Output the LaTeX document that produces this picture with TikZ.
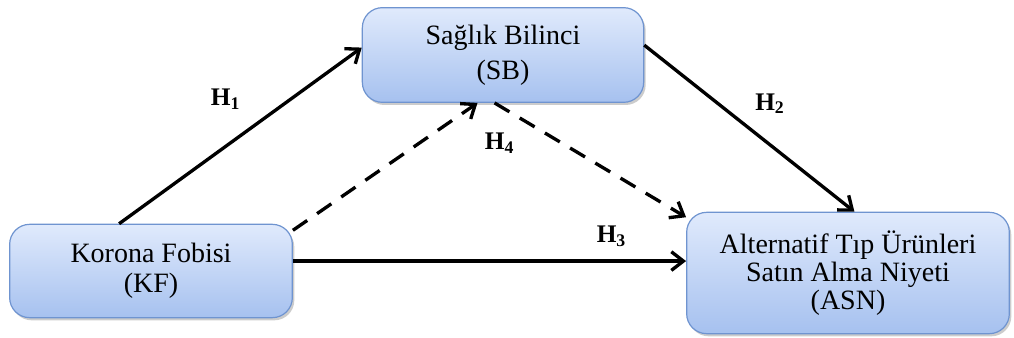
\documentclass[tikz,border=0pt]{standalone}
\usepackage{fontspec}
\setmainfont{Liberation Serif}
\usetikzlibrary{arrows.meta,shadows}

\definecolor{boxtop}{HTML}{E0EAFC}
\definecolor{boxbottom}{HTML}{A6C1EF}
\definecolor{boxline}{HTML}{6F94D0}

\begin{document}
\begin{tikzpicture}[x=0.75pt, y=-0.75pt, >={Straight Barb[length=9pt,width=14pt]},
                    line width=2.5pt,
                    main node/.style={rectangle, rounded corners=15pt, draw=boxline, line width=0.9pt,
                      top color=boxtop, bottom color=boxbottom, align=center,
                      font=\fontsize{21}{22.5}\selectfont,
                      drop shadow={shadow xshift=1.5pt, shadow yshift=-2pt, opacity=0.4}},
                    hyp/.style={font=\fontsize{19}{22}\selectfont\bfseries}]

  \useasboundingbox (0,0) rectangle (1014,338);

  \node[main node, minimum width=212pt, minimum height=70pt] (kf) at (151,271) {Korona Fobisi\\(KF)};
  \node[main node, minimum width=211pt, minimum height=71pt, font=\fontsize{21}{26}\selectfont] (sb) at (503,55) {Sağlık Bilinci\\(SB)};
  \node[main node, minimum width=242pt, minimum height=91pt, font=\fontsize{21}{21}\selectfont] (asn) at (848,273)
    {Alternatif Tıp Ürünleri\\Satın Alma Niyeti\\(ASN)};

  \path[->][every node/.style={hyp}]
    (kf.124) edge node [pos=0.55, shift={(-27,-28)}] {H\textsubscript{1}} (sb.177)
    (sb.4) edge node [pos=0.55, shift={(10,-33)}] {H\textsubscript{2}} (asn.84)
    (kf.4) edge node [pos=0.81, shift={(0,-25)}] {H\textsubscript{3}} (kf.4 -| asn.west)
    (kf.16) edge [dashed, dash pattern=on 13pt off 9pt] node [pos=1, shift={(22,40)}] {H\textsubscript{4}} (sb.242)
    (sb.260) edge [dashed, dash pattern=on 13pt off 9pt] (asn.161);
\end{tikzpicture}
\end{document}
